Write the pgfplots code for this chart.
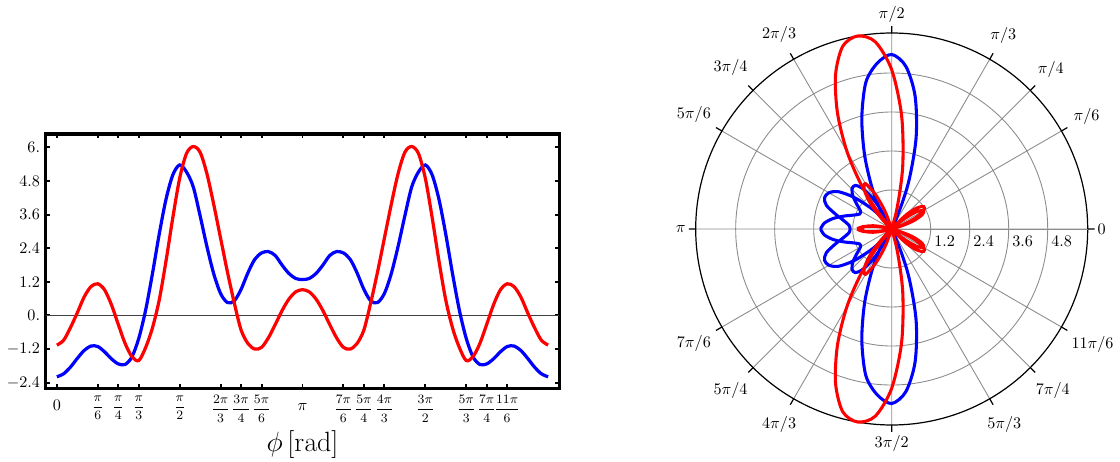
\documentclass[border=0pt]{standalone}
\usepackage{pgfplots}
\usepgfplotslibrary{polar}
\pgfplotsset{compat=1.18}
\usepackage{pgfplotstable}

% phi in degrees, value
\pgfplotstableread{
deg val
0 -2.19
5 -2.08
10 -1.84
15 -1.53
20 -1.25
25 -1.09
30 -1.11
35 -1.30
40 -1.55
45 -1.73
50 -1.75
55 -1.48
60 -0.82
65 0.18
70 1.48
75 2.90
80 4.15
85 5.02
90 5.37
95 5.12
100 4.58
105 3.55
110 2.45
115 1.48
120 0.78
125 0.46
130 0.52
135 0.93
140 1.52
145 2.00
150 2.23
155 2.28
160 2.14
165 1.80
170 1.50
175 1.32
180 1.28
185 1.32
190 1.50
195 1.80
200 2.14
205 2.28
210 2.23
215 2.00
220 1.52
225 0.93
230 0.52
235 0.46
240 0.78
245 1.48
250 2.45
255 3.55
260 4.58
265 5.12
270 5.37
275 5.02
280 4.15
285 2.90
290 1.48
295 0.18
300 -0.82
305 -1.48
310 -1.75
315 -1.73
320 -1.55
325 -1.30
330 -1.11
335 -1.09
340 -1.25
345 -1.53
350 -1.84
355 -2.08
360 -2.19
}\blue

\pgfplotstableread{
deg val
0 -1.06
5 -0.88
10 -0.43
15 0.10
20 0.66
25 1.03
30 1.13
35 0.91
40 0.38
45 -0.32
50 -1.00
55 -1.47
60 -1.61
65 -1.15
70 -0.45
75 0.55
80 1.95
85 3.50
90 4.90
95 5.78
100 6.03
105 5.82
110 5.05
115 3.95
120 2.75
125 1.55
130 0.45
135 -0.52
140 -1.00
145 -1.20
150 -1.14
155 -0.80
160 -0.33
165 0.17
170 0.58
175 0.84
180 0.92
185 0.84
190 0.58
195 0.17
200 -0.33
205 -0.80
210 -1.14
215 -1.20
220 -1.00
225 -0.52
230 0.45
235 1.55
240 2.75
245 3.95
250 5.05
255 5.82
260 6.03
265 5.78
270 4.90
275 3.50
280 1.95
285 0.55
290 -0.45
295 -1.15
300 -1.61
305 -1.47
310 -1.00
315 -0.32
320 0.38
325 0.91
330 1.13
335 1.03
340 0.66
345 0.10
350 -0.43
355 -0.88
360 -1.06
}\red

\newcommand{\fr}[2]{{\footnotesize$\displaystyle\frac{#1}{#2}$}}
\newcommand{\ph}{\vphantom{\displaystyle\frac{\pi}{6}}}

\begin{document}
\begin{tikzpicture}
\useasboundingbox (0,0) rectangle (694.4pt,286.44pt);
\begin{axis}[
  at={(28.33pt,45.69pt)}, anchor=south west,
  scale only axis, width=318.43pt, height=157.67pt,
  xmin=-8.2, xmax=368.2, ymin=-2.6, ymax=6.475,
  axis line style={line width=2pt},
  xtick={0,30,45,60,90,120,135,150,180,210,225,240,270,300,315,330},
  xticklabels={{\footnotesize$\ph$\normalsize$0$},\fr{\pi}{6},\fr{\pi}{4},\fr{\pi}{3},\fr{\pi}{2},\fr{2\pi}{3},\fr{3\pi}{4},\fr{5\pi}{6},{\footnotesize$\ph$\normalsize$\pi$},
    \fr{7\pi}{6},\fr{5\pi}{4},\fr{4\pi}{3},\fr{3\pi}{2},\fr{5\pi}{3},\fr{7\pi}{4},\fr{11\pi}{6}},
  xticklabel style={anchor=north, yshift=-1pt},
  ytick={-2.4,-1.2,0,1.2,2.4,3.6,4.8,6},
  yticklabels={$-2.4$,$-1.2$,$0.$,$1.2$,$2.4$,$3.6$,$4.8$,$6.$},
  tick align=inside, major tick length=2.6pt,
  tick style={line width=1.2pt, black},
  extra y ticks={0}, extra y tick labels={},
  extra y tick style={grid=major, major grid style={black!75, line width=0.55pt}, major tick length=0pt},
  xlabel={$\phi\,[\mathrm{rad}]$},
  xlabel style={font=\fontsize{16}{19}\selectfont, yshift=2pt},
]
\addplot[blue, line width=2pt, smooth] table[x=deg, y=val] {\blue};
\addplot[red, line width=2pt, smooth] table[x=deg, y=val] {\red};
\end{axis}

\begin{polaraxis}[
  at={(552.85pt,144.46pt)}, anchor=center,
  scale only axis, width=243.04pt, height=243.04pt,
  ymin=0, ymax=6.03,
  xtick={0,30,45,60,90,120,135,150,180,210,225,240,270,300,315,330},
  xticklabels={$0$,$\pi/6$,$\pi/4$,$\pi/3$,$\pi/2$,$2\pi/3$,$3\pi/4$,$5\pi/6$,$\pi$,$7\pi/6$,$5\pi/4$,$4\pi/3$,$3\pi/2$,$5\pi/3$,$7\pi/4$,$11\pi/6$},
  xticklabel style={inner sep=6pt},
  ytick={1.2,2.4,3.6,4.8},
  yticklabels={$1.2$,$2.4$,$3.6$,$4.8$},
  yticklabel style={anchor=north west, inner sep=1pt, yshift=-3pt, xshift=1pt},
  grid=major, major grid style={black!45, line width=0.55pt},
  x axis line style={black, line width=0.75pt},
  y axis line style={black!45, line width=0.55pt},
  ytick style={draw=none},
  xtick style={black, line width=0.75pt},
  clip=false,
]
\addplot[blue, line width=1.9pt, smooth] table[x=deg, y=val] {\blue};
\addplot[red, line width=1.9pt, smooth] table[x=deg, y=val] {\red};
\end{polaraxis}
\end{tikzpicture}
\end{document}
